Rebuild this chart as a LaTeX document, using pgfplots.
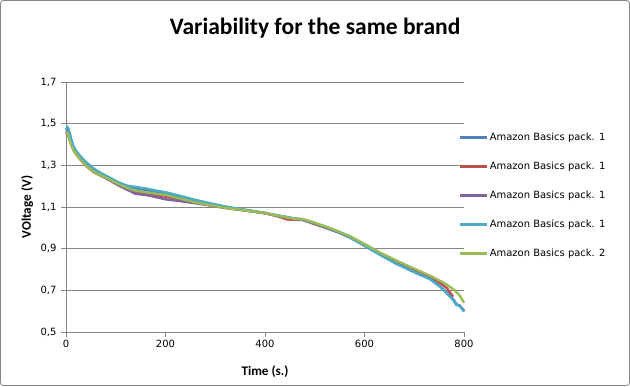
\documentclass[border=0pt]{standalone}
\usepackage{fontspec}
\setmainfont{DejaVu Sans}
\newfontfamily\calibri{Carlito}
\usepackage{pgfplots}
\pgfplotsset{compat=1.18}
\usepackage{pgfplotstable}
\definecolor{xblue}{HTML}{4F81BD}
\definecolor{xred}{HTML}{C0504D}
\definecolor{xpurple}{HTML}{8064A2}
\definecolor{xcyan}{HTML}{4BACC6}
\definecolor{xgreen}{HTML}{9BBB59}
\definecolor{xgrid}{HTML}{868686}

\pgfplotstableread{
t v
0 1.468
3 1.478
6 1.462
10 1.425
15 1.388
20 1.366
28 1.342
40 1.312
55 1.282
70 1.260
88 1.238
105 1.216
122 1.199
140 1.190
160 1.182
180 1.174
200 1.166
230 1.149
260 1.131
290 1.115
323 1.099
360 1.086
400 1.071
430 1.057
460 1.044
475 1.040
497 1.024
520 1.004
545 0.982
570 0.955
600 0.915
630 0.874
664 0.830
698 0.792
731 0.757
751 0.722
765 0.690
778 0.658
785 0.632
792 0.626
800 0.600
}\sone

\pgfplotstableread{
t v
0 1.448
3 1.452
6 1.435
10 1.405
15 1.375
20 1.355
28 1.330
40 1.298
55 1.268
70 1.250
88 1.228
105 1.205
122 1.186
140 1.172
160 1.165
180 1.158
200 1.150
230 1.137
260 1.121
290 1.107
323 1.094
360 1.083
400 1.070
430 1.052
445 1.040
460 1.039
475 1.038
497 1.020
520 1.001
545 0.980
570 0.955
600 0.918
630 0.878
664 0.836
698 0.800
731 0.764
751 0.737
765 0.712
778 0.670
}\stwo

\pgfplotstableread{
t v
0 1.455
3 1.462
6 1.440
10 1.410
15 1.380
20 1.358
28 1.334
40 1.302
55 1.272
70 1.252
88 1.230
105 1.205
122 1.184
140 1.163
160 1.158
180 1.148
200 1.137
230 1.128
260 1.118
290 1.108
323 1.096
360 1.085
400 1.070
430 1.056
460 1.043
475 1.040
497 1.024
520 1.004
545 0.982
570 0.955
600 0.915
630 0.874
664 0.829
698 0.791
731 0.756
751 0.721
765 0.689
778 0.657
785 0.633
792 0.625
800 0.602
}\sthree

\pgfplotstableread{
t v
0 1.472
3 1.485
6 1.470
10 1.430
15 1.392
20 1.370
28 1.346
40 1.316
55 1.286
70 1.263
88 1.241
105 1.219
122 1.203
140 1.196
160 1.189
180 1.179
200 1.171
230 1.153
260 1.134
290 1.118
323 1.101
360 1.087
400 1.072
430 1.058
460 1.045
475 1.040
497 1.025
520 1.005
545 0.983
570 0.955
600 0.914
630 0.872
664 0.827
698 0.789
731 0.754
751 0.719
765 0.687
778 0.654
785 0.630
792 0.624
800 0.597
}\sfour

\pgfplotstableread{
t v
0 1.455
3 1.458
6 1.430
10 1.400
15 1.372
20 1.355
28 1.330
40 1.300
55 1.270
70 1.252
88 1.232
105 1.210
122 1.192
140 1.178
160 1.171
180 1.164
200 1.158
230 1.140
260 1.122
290 1.108
323 1.095
360 1.084
400 1.071
430 1.056
460 1.043
475 1.043
497 1.027
520 1.008
545 0.986
570 0.961
600 0.923
630 0.883
664 0.843
698 0.806
731 0.771
751 0.747
765 0.728
778 0.706
790 0.680
800 0.640
}\sfive

\begin{document}
\begin{tikzpicture}[x=1bp,y=1bp]
\draw[xgrid,line width=0.8bp,rounded corners=3bp] (0.5,0.5) rectangle (629.5,385.5);
\path[use as bounding box] (0,0) rectangle (630,386);
\begin{axis}[
  at={(66bp,54bp)}, anchor=origin,
  scale only axis, width=398bp, height=250bp,
  xmin=0, xmax=800, ymin=0.5, ymax=1.7,
  xtick={0,200,400,600,800},
  ytick={0.5,0.7,0.9,1.1,1.3,1.5,1.7},
  axis x line*=bottom, axis y line*=left,
  axis line style={xgrid,line width=0.8bp,-},
  ymajorgrids, grid style={xgrid,line width=0.8bp},
  tick align=outside, major tick length=5bp,
  tick style={xgrid,line width=0.8bp},
  tick label style={font=\fontsize{10}{12}\selectfont, black},
  yticklabel style={xshift=-1bp},
  /pgf/number format/assume math mode=true,
  yticklabel style={/pgf/number format/.cd,use comma,fixed,fixed zerofill,precision=1},
  xticklabel style={/pgf/number format/.cd,fixed},
  title={\calibri\bfseries Variability for the same brand},
  title style={font=\fontsize{23.6}{26}\selectfont, at={(rel axis cs:0.626,1.192)}, anchor=center},
  xlabel={\calibri\bfseries Time (s.)},
  xlabel style={font=\fontsize{13.2}{15}\selectfont, at={(rel axis cs:0.5,-0.158)}, anchor=center},
  ylabel={\calibri\bfseries VOltage (V)},
  ylabel style={font=\fontsize{13.2}{15}\selectfont, at={(rel axis cs:-0.098,0.5)}, anchor=center, rotate=0},
  legend style={draw=none, fill=none, inner sep=0pt, at={(rel axis cs:0.985,0.805)}, anchor=north west,
    font=\fontsize{10}{12}\selectfont, row sep=15.5bp,
    nodes={inner sep=2bp, text height=7.5bp, text depth=2bp},
    /tikz/every even column/.append style={column sep=0bp}},
  legend cell align=left,
  legend image code/.code={\draw[#1, line width=2.6bp] (0bp,0bp) -- (27bp,0bp);},
  every axis plot/.append style={line width=2.4bp, line join=round},
  clip=false,
]
\addplot[xblue, no marks] table[x=t,y=v] {\sone};
\addlegendentry{Amazon Basics pack. 1}
\addplot[xred, no marks] table[x=t,y=v] {\stwo};
\addlegendentry{Amazon Basics pack. 1}
\addplot[xpurple, no marks] table[x=t,y=v] {\sthree};
\addlegendentry{Amazon Basics pack. 1}
\addplot[xcyan, no marks] table[x=t,y=v] {\sfour};
\addlegendentry{Amazon Basics pack. 1}
\addplot[xgreen, no marks] table[x=t,y=v] {\sfive};
\addlegendentry{Amazon Basics pack. 2}
\end{axis}
\end{tikzpicture}
\end{document}
